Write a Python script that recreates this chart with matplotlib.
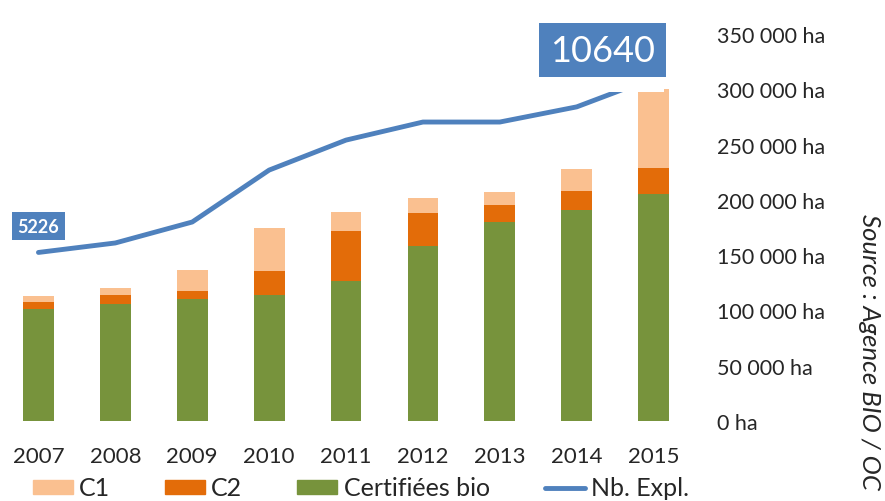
import matplotlib
matplotlib.use("Agg")
import matplotlib.pyplot as plt
from matplotlib.patches import Rectangle, Patch
from matplotlib.lines import Line2D

# Données (surfaces en ha, nombre d'exploitations)
annees = ["2007", "2008", "2009", "2010", "2011", "2012", "2013", "2014", "2015"]
certifiees = [101300, 105800, 110300, 114000, 126600, 158300, 180000, 190800, 205300]
c2 = [6300, 8200, 7300, 21700, 45200, 29800, 15400, 17200, 23500]
c1 = [5400, 6300, 19000, 38900, 17200, 13600, 11700, 19900, 71500]
nb_expl = [5226, 5520, 6170, 7780, 8710, 9270, 9270, 9740, 10640]
ticks_ha = [0, 50000, 100000, 150000, 200000, 250000, 300000, 350000]

vert = "#77933C"
orange = "#E36C09"
orange_clair = "#FAC090"
bleu = "#4F81BD"
gris = "#262626"

plt.rcParams['font.family'] = ['Lato', 'DejaVu Sans']

fig = plt.figure(figsize=(8.85, 5.02), dpi=100)
ax = fig.add_axes([0.0, 0.1594, 0.782, 0.7709])

x = list(range(len(annees)))
largeur = 0.4
bas_c1 = [a + b for a, b in zip(certifiees, c2)]
ax.bar(x, certifiees, largeur, color=vert, label="Certifiées bio")
ax.bar(x, c2, largeur, bottom=certifiees, color=orange, label="C2")
ax.bar(x, c1, largeur, bottom=bas_c1, color=orange_clair, label="C1")

ax.set_xlim(-0.5, len(annees) - 0.5)
ax.set_ylim(0, 350000)
ax.set_xticks(x)
ax.set_xticklabels(annees, fontsize=16, color=gris)
ax.set_yticks(ticks_ha)
ax.set_yticklabels([f"{v:,} ha".replace(",", " ") for v in ticks_ha], fontsize=15.5, color=gris)
for s in ax.spines.values():
    s.set_visible(False)

# Nombre d'exploitations sur un axe secondaire caché
ax2 = ax.twinx()
ax2.set_ylim(0, 12000)
ax2.plot(x, nb_expl, color=bleu, linewidth=3.5, solid_capstyle="round", zorder=3)
ax2.set_yticks([])
for s in ax2.spines.values():
    s.set_visible(False)

# twinx remet les graduations à gauche : on les replace à droite
ax.yaxis.tick_right()
ax.tick_params(axis="x", length=0, pad=18)
ax.tick_params(axis="y", length=0, pad=18)

# fond blanc derrière l'étiquette finale
ax2.add_patch(Rectangle((0.773, 0.850), 0.187, 0.3, transform=ax2.transAxes,
                        facecolor="white", edgecolor="none", clip_on=False, zorder=4))

ax2.annotate(str(nb_expl[0]), (x[0], nb_expl[0]), xytext=(0, 19), textcoords="offset points",
             ha="center", va="center", fontsize=13, fontweight="bold", color="white",
             bbox=dict(boxstyle="square,pad=0.3", facecolor=bleu, edgecolor="none"), zorder=5)
ax2.annotate(str(nb_expl[-1]), (x[-1], nb_expl[-1]), xytext=(-37, 20), textcoords="offset points",
             ha="center", va="center", fontsize=26, color="white",
             bbox=dict(boxstyle="square,pad=0.3", facecolor=bleu, edgecolor="none"), zorder=5)

handles = [Patch(color=orange_clair), Patch(color=orange), Patch(color=vert),
           Line2D([], [], color=bleu, linewidth=3.5, solid_capstyle="round")]
labels = ["C1", "C2", "Certifiées bio", "Nb. Expl."]
fig.legend(handles, labels, loc="center left", bbox_to_anchor=(20 / 885, 1 - 489 / 502),
           ncol=4, frameon=False, fontsize=18, borderpad=0, handlelength=1.6,
           handleheight=0.5, handletextpad=0.25, columnspacing=2.2, labelcolor=gris)

fig.text(870 / 885, 1 - 352 / 502, "Source : Agence BIO / OC", rotation=-90, style="italic",
         ha="center", va="center", fontsize=18.5, color=gris)

fig.savefig("out.png", dpi=100)
